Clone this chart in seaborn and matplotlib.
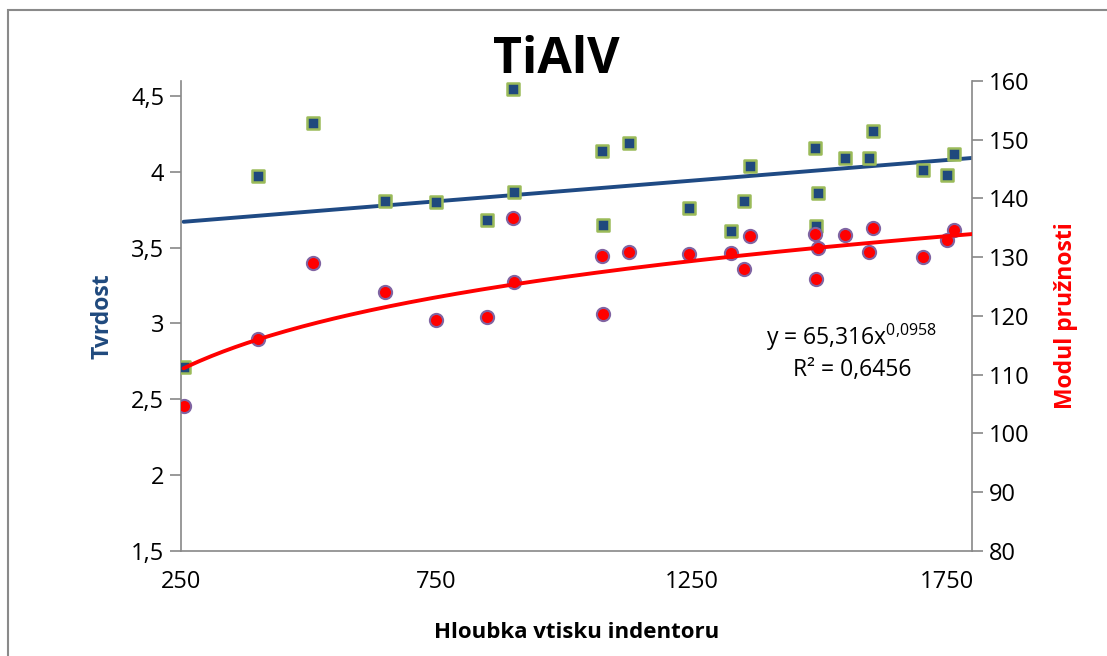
import numpy as np
import pandas as pd
import matplotlib
matplotlib.use("Agg")
import matplotlib.pyplot as plt
import matplotlib.patches as mpatches
import seaborn as sns

# ---- data ----
hloubka = [255, 400, 508, 650, 750, 849, 900, 903, 1074, 1076, 1127, 1245,
           1327, 1354, 1365, 1492, 1494, 1498, 1551, 1599, 1606, 1704, 1751, 1764]
tvrdost = [2.71, 3.97, 4.32, 3.81, 3.80, 3.68, 4.55, 3.87, 4.14, 3.65, 4.19, 3.76,
           3.61, 3.81, 4.04, 4.16, 3.64, 3.86, 4.09, 4.09, 4.27, 4.01, 3.98, 4.12]
modul = [104.7, 116.1, 129.0, 124.1, 119.3, 119.8, 136.6, 125.7, 130.2, 120.3, 130.9, 130.6,
         130.7, 128.0, 133.6, 134.0, 126.2, 131.6, 133.7, 130.9, 135.0, 130.0, 132.9, 134.6]
x_ticks = [250, 750, 1250, 1750]
left_ticks = [1.5, 2, 2.5, 3, 3.5, 4, 4.5]
right_ticks = [80, 90, 100, 110, 120, 130, 140, 150, 160]
power_a = 65.316
power_b = 0.0958
title = "TiAlV"
eq_text = r"y = 65,316x$^{0{,}0958}$" + "\nR² = 0,6456"

df = pd.DataFrame({"x": hloubka, "tvrdost": tvrdost, "modul": modul})

sns.set_theme(style="white")
plt.rcParams["font.family"] = ["Open Sans", "DejaVu Sans"]
plt.rcParams["mathtext.fontset"] = "custom"
plt.rcParams["mathtext.rm"] = "Open Sans"
plt.rcParams["text.color"] = "black"

W, H = 1107, 656
fig = plt.figure(figsize=(W / 100, H / 100), dpi=100)
ax = fig.add_axes([181 / W, 1 - 550.7 / H, (972 - 181) / W, (550.7 - 81) / H])
ax2 = ax.twinx()

navy = "#1F497D"
xmin, xmax = 250, 1800

# trend lines
slope, inter = np.polyfit(df["x"], df["tvrdost"], 1)
xt = np.linspace(df["x"].min(), xmax, 200)
trend_lin = pd.DataFrame({"x": xt, "y": slope * xt + inter})
trend_pow = pd.DataFrame({"x": xt, "y": power_a * xt ** power_b})

sns.lineplot(data=trend_lin, x="x", y="y", ax=ax, color="#1F4A84", linewidth=2.8, zorder=2)
sns.scatterplot(data=df, x="x", y="tvrdost", ax=ax, marker="s", s=80,
                color=navy, edgecolor="#9BBB59", linewidth=1.8, zorder=3)
sns.scatterplot(data=df, x="x", y="modul", ax=ax2, marker="o", s=90,
                color="#FF0000", edgecolor="#8064A2", linewidth=1.5, zorder=3)
sns.lineplot(data=trend_pow, x="x", y="y", ax=ax2, color="#FF0000", linewidth=2.8, zorder=4)

ax.set_xlim(xmin, xmax)
ax.set_ylim(1.5, 4.6)
ax2.set_ylim(80, 160)
ax.set_xticks(x_ticks)
ax.set_yticks(left_ticks)
ax2.set_yticks(right_ticks)
ax.set_yticklabels([f"{v:g}".replace(".", ",") for v in left_ticks])
ax.set_xticklabels([str(v) for v in x_ticks])
ax2.set_yticklabels([str(v) for v in right_ticks])

spine_c = "#888888"
for a in (ax, ax2):
    a.grid(False)
    a.spines["top"].set_visible(False)
    for s in ("left", "right", "bottom"):
        a.spines[s].set_color(spine_c)
        a.spines[s].set_linewidth(1.2)
    a.tick_params(axis="both", which="both", direction="out", length=8, width=1.2,
                  color=spine_c, labelsize=17, labelcolor="black", pad=4)
ax.spines["right"].set_visible(False)
ax2.spines["left"].set_visible(False)
ax2.spines["bottom"].set_visible(False)
ax.tick_params(axis="x", pad=6)

ax.set_xlabel("Hloubka vtisku indentoru", fontsize=16, fontweight="bold", color="black", labelpad=20)
ax.set_ylabel("Tvrdost", fontsize=16.5, fontweight="bold", color=navy, labelpad=12)
ax2.set_ylabel("Modul pružnosti", fontsize=16.5, fontweight="bold", color="#FF0000", labelpad=18)

fig.text(556 / W, 1 - 60 / H, title, fontsize=36, fontweight="bold", ha="center", va="center",
         color="black")
ax.text(852 / W, 1 - 352 / H, eq_text, transform=fig.transFigure, fontsize=16.5,
        ha="center", va="center", linespacing=1.25, color="black")

# outer chart border
fig.patches.append(mpatches.Rectangle((8 / W, -0.1), 1.2, 1 - 10 / H + 0.1,
                                      transform=fig.transFigure, fill=False,
                                      edgecolor="#8a8a8a", linewidth=1.5))

fig.savefig("out.png", dpi=100)
